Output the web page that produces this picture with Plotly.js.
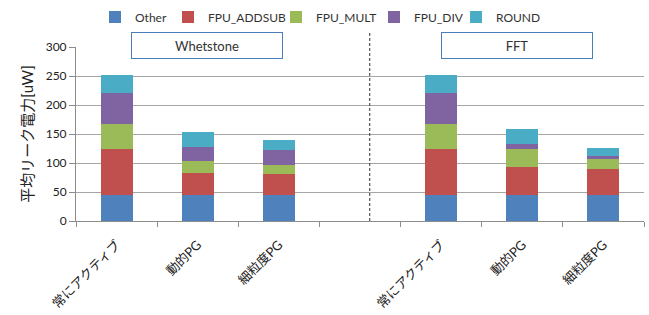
<!DOCTYPE html>
<html>
<head>
<meta charset="utf-8">
<script src="https://cdn.plot.ly/plotly-3.0.1.min.js"></script>
<style>html,body{margin:0;padding:0;background:#fff;}#chart{width:649px;height:315px;}</style>
</head>
<body>
<div id="chart"></div>
<script>
// ---- data ----
var groups = ["Whetstone", "FFT"];
var categories = ["常にアクティブ", "動的PG", "細粒度PG"];
var seriesNames = ["Other", "FPU_ADDSUB", "FPU_MULT", "FPU_DIV", "ROUND"];
// values: Whetstone (3 bars) then FFT (3 bars)
var otherVals  = [44.5, 44.5, 44.5, 44.5, 44.5, 44.5];
var addsubVals = [79.5, 39.0, 37.0, 79.5, 48.5, 45.0];
var multVals   = [43.0, 19.5, 15.5, 43.0, 31.0, 17.4];
var divVals    = [54.0, 24.5, 25.5, 54.0, 8.0, 5.7];
var roundVals  = [31.0, 25.5, 17.0, 31.0, 26.5, 14.0];
var yTitle = "平均リーク電力[uW]";

// ---- layout helpers ----
var colors = ["#4F81BD", "#C0504D", "#9BBB59", "#8064A2", "#4BACC6"];
var allVals = [otherVals, addsubVals, multVals, divVals, roundVals];
var slotsPerGroup = categories.length + 1;           // one empty slot between groups
var xPos = [], xLabelText = [];
groups.forEach(function (g, gi) {
  categories.forEach(function (c, ci) {
    xPos.push(gi * slotsPerGroup + ci);
    xLabelText.push(c);
  });
});
var nSlots = groups.length * categories.length + (groups.length - 1);
var boundaries = [];
for (var b = 0; b <= nSlots; b++) boundaries.push(b - 0.5);

var FONT = "Lato, 'Noto Sans CJK JP', sans-serif";
var W = 649, H = 315, ML = 76, MR = 5;
// legend entry left edges (page px)
var legendLeftPx = [95, 168, 276, 374, 456];
var legendIds = ["legend", "legend2", "legend3", "legend4", "legend5"];

var traces = seriesNames.map(function (name, i) {
  return {
    type: "bar", name: name, x: xPos, y: allVals[i],
    marker: { color: colors[i], line: { width: 0 } },
    xaxis: "x", yaxis: "y", hoverinfo: "skip", legend: legendIds[i]
  };
});

var layout = {
  width: W, height: H,
  margin: { l: ML, r: MR, t: 47, b: 94 },
  paper_bgcolor: "#ffffff", plot_bgcolor: "#ffffff",
  font: { family: FONT, color: "#333333", size: 12 },
  barmode: "stack", bargap: 0.606,
  showlegend: true,
  xaxis: {
    type: "linear", range: [-0.5, nSlots - 0.5],
    tickmode: "array", tickvals: boundaries, ticks: "outside", ticklen: 5,
    tickcolor: "#8c8c8c", showticklabels: false,
    showline: true, linecolor: "#8c8c8c", linewidth: 1,
    showgrid: false, zeroline: false, fixedrange: true
  },
  xaxis2: {
    type: "linear", range: [-0.5, nSlots - 0.5], overlaying: "x", anchor: "y",
    tickmode: "array", tickvals: xPos, ticktext: xLabelText,
    ticks: "outside", ticklen: 10, tickcolor: "rgba(0,0,0,0)",
    tickangle: -45, tickfont: { size: 13, color: "#222222" },
    showline: false, showgrid: false, zeroline: false, fixedrange: true
  },
  yaxis: {
    range: [0, 300], dtick: 50, tick0: 0,
    ticks: "outside", ticklen: 6, tickcolor: "#8c8c8c",
    tickfont: { size: 12, color: "#222222" },
    showline: true, linecolor: "#8c8c8c", linewidth: 1,
    showgrid: true, gridcolor: "#a6a6a6", gridwidth: 1,
    zeroline: false, fixedrange: true,
    title: { text: yTitle, font: { size: 15, color: "#222222" }, standoff: 8 }
  },
  shapes: [{
    type: "line", xref: "x", yref: "paper",
    x0: 3.12, x1: 3.12, y0: 0, y1: 1.082,
    line: { color: "#333333", width: 1, dash: "3px,2px" }
  }],
  annotations: groups.map(function (g, gi) {
    return {
      text: g, xref: "x", yref: "paper",
      x: gi === 0 ? 1.117 : 4.93, y: 1.011,
      showarrow: false, xanchor: "center", yanchor: "middle",
      width: 146, height: 21, borderpad: 2, borderwidth: 1,
      bordercolor: "#4A7EBB", bgcolor: "#ffffff",
      font: { size: 13, color: "#333333" }
    };
  })
};
legendIds.forEach(function (id, i) {
  layout[id] = {
    orientation: "h", xref: "container", x: legendLeftPx[i] / W, xanchor: "left",
    yref: "container", y: 1 - 17 / H, yanchor: "middle", bgcolor: "rgba(0,0,0,0)",
    font: { size: 12, color: "#333333" }, itemwidth: 30
  };
});

// invisible trace so the label axis (xaxis2) is drawn
traces.push({ type: "scatter", x: [xPos[0]], y: [0], xaxis: "x2", yaxis: "y",
  mode: "markers", marker: { opacity: 0 }, showlegend: false, hoverinfo: "skip" });

Plotly.newPlot("chart", traces, layout, { displayModeBar: false, staticPlot: true });
</script>
</body>
</html>
